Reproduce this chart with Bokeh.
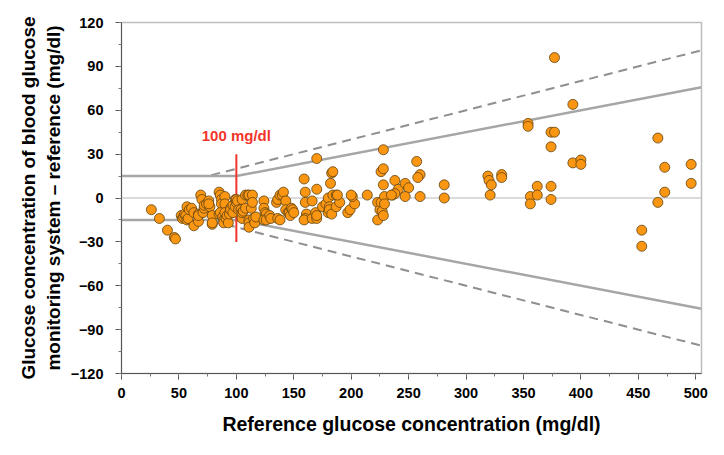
from bokeh.plotting import figure
from bokeh.models import Span, FixedTicker, Range1d, Label
from bokeh.embed import file_html
from bokeh.resources import INLINE

# Reference glucose (mg/dl) and difference meter - reference (mg/dl)
ref_glucose = [
    26, 33, 40, 46, 47,
    52, 53, 54, 55, 56, 57, 57, 58, 59, 61, 63, 63, 67, 67, 67, 69, 70, 71, 72, 72,
    74, 76, 77, 76, 79, 79, 79, 85, 85, 86, 87, 87, 86, 88, 89, 89, 90, 90, 90, 91,
    92, 93, 94, 95, 95, 97, 97, 99, 99, 100, 100, 101, 102,
    104, 105, 105, 105, 106, 108, 108, 110, 111, 111, 111, 111, 113, 114, 114, 115,
    116, 117, 124, 124, 125, 126, 124, 126, 129, 130, 135, 136, 136, 138, 138, 140,
    141, 143, 143, 145, 146, 147, 148, 149, 150,
    159, 160, 160, 161, 160, 159, 166, 166, 170, 169, 170, 170, 170, 175, 178, 180,
    181, 184, 187, 180, 181, 183, 187, 190, 182, 183, 184, 188,
    197, 199, 203, 201, 200, 214,
    223, 225, 226, 227, 223, 228, 228, 226, 228, 228, 229, 229, 236, 238, 241, 238,
    235, 247, 250, 247, 257, 260, 258, 260,
    281, 281,
    319, 320, 322, 321, 331, 331,
    354, 354, 356, 356, 362, 362,
    374, 377, 374, 374, 374, 377,
    393, 393, 400, 400,
    453, 453,
    467, 473, 473, 467,
    496, 496,
]
difference = [
    -8, -14, -22, -27, -28,
    -12, -14, -13, -11, -12, -6, -15, -14, -8, -7, -10, -19, -16, -11, -12, 2, -1, -10, -7, -5,
    -4, -2, -6, -4, -18, -12, -17, 4, -11, 2, -1, -4, -10, -13, -15, -17, 1, -4, -10, -14,
    -12, -17, -11, -7, -8, -5, -10, -1, -6, -3, -1, -2, -8,
    -8, -14, -1, -10, -9, 2, -7, 2, -15, -17, -20, 2, -7, 2, -3, -14,
    -17, -13, -2, -7, -10, -11, -15, -15, -12, -14, -3, -1, -14, -15, 2, 2,
    4, -2, -8, -10, -10, -12, -7, -8, -10,
    13, 4, -3, -11, -14, -15, -14, -2, 6, -10, -14, -12, 27, -6, -4, 0,
    -6, 2, 2, -10, -8, -11, -6, -3, 10, 17, 18, 2,
    -10, -8, -4, 1, 2, 2,
    -3, -8, -3, -9, -15, -12, 9, 18, 20, 33, 1, -4, 2, 12, 6, 3,
    2, 10, 7, 1, 25, 16, 14, 1,
    9, 0,
    15, 12, 9, 2, 16, 14,
    51, 49, 1, -4, 8, 2,
    45, 45, 35, 8, -1, 96,
    64, 24, 26, 23,
    -22, -33,
    41, 21, 4, -3,
    23, 10,
]

x_ticks = [0, 50, 100, 150, 200, 250, 300, 350, 400, 450, 500]
y_ticks = [-120, -90, -60, -30, 0, 30, 60, 90, 120]

# Accuracy limits: +/-15 mg/dl below 100 mg/dl, +/-15 % above (solid);
# +/-15 mg/dl below 75 mg/dl, +/-20 % above (dashed)
x_max = 505
iso_x = [0, 100, x_max]
iso_upper = [max(15, 0.15 * v) for v in iso_x]
iso_lower = [-v for v in iso_upper]
wide_x = [0, 75, x_max]
wide_upper = [max(15, 0.20 * v) for v in wide_x]
wide_lower = [-v for v in wide_upper]

cutoff_x = [100, 100]
cutoff_y = [-30, 30]

FONT = "Liberation Sans"

p = figure(width=715, height=446, output_backend="svg", toolbar_location=None,
           x_range=Range1d(0, x_max), y_range=Range1d(-120, 120),
           min_border_left=121, min_border_right=14, min_border_top=22, min_border_bottom=73)

p.xgrid.visible = False
p.ygrid.visible = False
p.outline_line_color = "#bdbdbd"
p.outline_line_width = 1.5
p.background_fill_color = "white"
p.border_fill_color = "white"

p.add_layout(Span(location=0, dimension="width", line_color="#cfcfcf", line_width=1.5, level="underlay"))

p.line(wide_x, wide_upper, line_color="#8f8f8f", line_width=2, line_dash="9 6")
p.line(wide_x, wide_lower, line_color="#8f8f8f", line_width=2, line_dash="9 6")
p.line(iso_x, iso_upper, line_color="#a6a6a6", line_width=2.5)
p.line(iso_x, iso_lower, line_color="#a6a6a6", line_width=2.5)

p.line(cutoff_x, cutoff_y, line_color="#f2352b", line_width=2)
p.add_layout(Label(x=100, y=43, text="100 mg/dl", text_color="#f2352b", text_font=FONT,
                   text_font_style="bold", text_font_size="15px", text_align="center",
                   text_baseline="middle"))

p.scatter(ref_glucose, difference, size=10, fill_color="#fa9612", line_color="#5e4210",
          line_width=0.8)

for ax in (p.xaxis[0], p.yaxis[0]):
    ax.axis_line_color = "#555555"
    ax.axis_line_width = 1
    ax.major_tick_line_color = "#555555"
    ax.minor_tick_line_color = "#777777"
    ax.major_tick_out = 6
    ax.major_tick_in = 0
    ax.minor_tick_out = 3
    ax.minor_tick_in = 0
    ax.major_label_text_font = FONT
    ax.major_label_text_font_style = "bold"
    ax.major_label_text_font_size = "14.5px"
    ax.major_label_text_color = "black"
    ax.axis_label_text_font = FONT
    ax.axis_label_text_font_style = "bold"
    ax.axis_label_text_color = "black"

p.xaxis.axis_label_text_font_size = "19.5px"
p.yaxis.axis_label_text_font_size = "19px"
p.xaxis.ticker = FixedTicker(ticks=x_ticks, minor_ticks=list(range(0, 501, 25)))
p.yaxis.ticker = FixedTicker(ticks=y_ticks, minor_ticks=list(range(-120, 121, 15)))
p.xaxis.axis_label = "Reference glucose concentration (mg/dl)"
p.yaxis.axis_label = "Glucose concentration of blood glucose\nmonitoring system \u2013 reference (mg/dl)"
p.xaxis.major_label_standoff = 8
p.yaxis.major_label_standoff = 12
p.xaxis.axis_label_standoff = 12
p.yaxis.axis_label_standoff = 4

open("out.html", "w").write(file_html(p, INLINE))
